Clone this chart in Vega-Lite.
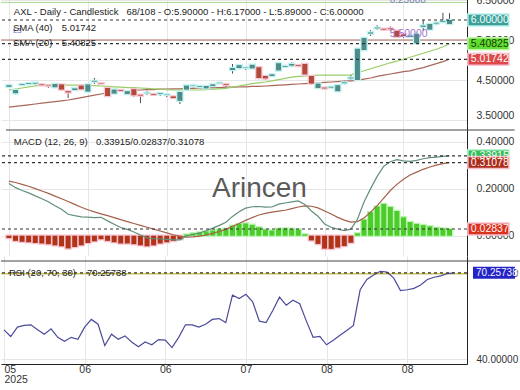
{
"$schema":"https://vega.github.io/schema/vega-lite/v6.json",
"padding":{"left":0,"top":-6,"right":0,"bottom":0},"spacing":0,"bounds":"flush","background":"white",
"config":{"view":{"stroke":null},"font":"Liberation Sans"},
"datasets":{"bars":[
{"i":0,"o":4.33,"h":4.40,"l":4.30,"c":4.37,"s20":4.25,"s40":3.82,"m":0.222,"sg":0.232,"hs":-0.010,"r":50.2},
{"i":1,"o":4.17,"h":4.28,"l":4.14,"c":4.25,"s20":4.27,"s40":3.84,"m":0.204,"sg":0.226,"hs":-0.022,"r":47.9},
{"i":2,"o":4.38,"h":4.41,"l":4.36,"c":4.40,"s20":4.30,"s40":3.86,"m":0.192,"sg":0.218,"hs":-0.026,"r":51.2},
{"i":3,"o":4.40,"h":4.43,"l":4.39,"c":4.42,"s20":4.33,"s40":3.88,"m":0.182,"sg":0.210,"hs":-0.028,"r":51.8},
{"i":4,"o":4.41,"h":4.44,"l":4.37,"c":4.43,"s20":4.35,"s40":3.90,"m":0.169,"sg":0.200,"hs":-0.031,"r":52.0},
{"i":5,"o":4.39,"h":4.40,"l":4.36,"c":4.37,"s20":4.37,"s40":3.92,"m":0.157,"sg":0.190,"hs":-0.033,"r":50.3},
{"i":6,"o":4.36,"h":4.37,"l":4.30,"c":4.35,"s20":4.38,"s40":3.94,"m":0.144,"sg":0.180,"hs":-0.036,"r":48.7},
{"i":7,"o":4.32,"h":4.42,"l":4.31,"c":4.40,"s20":4.38,"s40":3.96,"m":0.127,"sg":0.168,"hs":-0.041,"r":50.6},
{"i":8,"o":4.39,"h":4.40,"l":4.24,"c":4.26,"s20":4.38,"s40":3.98,"m":0.112,"sg":0.157,"hs":-0.045,"r":47.6},
{"i":9,"o":4.22,"h":4.25,"l":4.05,"c":4.19,"s20":4.37,"s40":4.00,"m":0.091,"sg":0.145,"hs":-0.054,"r":46.2},
{"i":10,"o":4.25,"h":4.31,"l":4.24,"c":4.29,"s20":4.37,"s40":4.03,"m":0.085,"sg":0.133,"hs":-0.048,"r":47.6},
{"i":11,"o":4.36,"h":4.38,"l":4.25,"c":4.27,"s20":4.37,"s40":4.06,"m":0.080,"sg":0.121,"hs":-0.041,"r":46.9},
{"i":12,"o":4.21,"h":4.40,"l":4.20,"c":4.39,"s20":4.36,"s40":4.09,"m":0.079,"sg":0.110,"hs":-0.031,"r":51.2},
{"i":13,"o":4.46,"h":4.55,"l":4.40,"c":4.48,"s20":4.36,"s40":4.12,"m":0.077,"sg":0.101,"hs":-0.024,"r":53.9},
{"i":14,"o":4.42,"h":4.43,"l":4.40,"c":4.41,"s20":4.35,"s40":4.15,"m":0.078,"sg":0.093,"hs":-0.015,"r":52.2},
{"i":15,"o":4.30,"h":4.31,"l":4.08,"c":4.10,"s20":4.34,"s40":4.18,"m":0.063,"sg":0.085,"hs":-0.022,"r":44.7},
{"i":16,"o":4.16,"h":4.28,"l":4.15,"c":4.26,"s20":4.33,"s40":4.20,"m":0.049,"sg":0.077,"hs":-0.028,"r":48.7},
{"i":17,"o":4.25,"h":4.27,"l":4.20,"c":4.23,"s20":4.32,"s40":4.22,"m":0.035,"sg":0.068,"hs":-0.033,"r":46.9},
{"i":18,"o":4.15,"h":4.24,"l":4.14,"c":4.22,"s20":4.31,"s40":4.23,"m":0.027,"sg":0.060,"hs":-0.033,"r":48.1},
{"i":19,"o":4.27,"h":4.28,"l":4.08,"c":4.12,"s20":4.31,"s40":4.24,"m":0.016,"sg":0.052,"hs":-0.036,"r":46.0},
{"i":20,"o":4.13,"h":4.14,"l":3.92,"c":4.11,"s20":4.30,"s40":4.25,"m":0.003,"sg":0.044,"hs":-0.041,"r":44.3},
{"i":21,"o":4.17,"h":4.23,"l":4.12,"c":4.18,"s20":4.29,"s40":4.26,"m":-0.009,"sg":0.036,"hs":-0.045,"r":46.0},
{"i":22,"o":4.15,"h":4.16,"l":4.12,"c":4.13,"s20":4.28,"s40":4.26,"m":-0.013,"sg":0.028,"hs":-0.041,"r":45.0},
{"i":23,"o":4.15,"h":4.18,"l":4.10,"c":4.17,"s20":4.27,"s40":4.27,"m":-0.013,"sg":0.020,"hs":-0.033,"r":46.8},
{"i":24,"o":4.13,"h":4.15,"l":4.07,"c":4.14,"s20":4.26,"s40":4.27,"m":-0.016,"sg":0.012,"hs":-0.028,"r":46.6},
{"i":25,"o":4.09,"h":4.10,"l":4.04,"c":4.05,"s20":4.25,"s40":4.28,"m":-0.018,"sg":0.004,"hs":-0.022,"r":44.0},
{"i":26,"o":3.98,"h":4.22,"l":3.90,"c":4.20,"s20":4.25,"s40":4.28,"m":-0.018,"sg":-0.003,"hs":-0.015,"r":47.6},
{"i":27,"o":4.26,"h":4.38,"l":4.25,"c":4.36,"s20":4.25,"s40":4.29,"m":-0.001,"sg":-0.006,"hs":0.005,"r":52.0},
{"i":28,"o":4.36,"h":4.40,"l":4.32,"c":4.37,"s20":4.25,"s40":4.29,"m":0.005,"sg":-0.005,"hs":0.010,"r":52.0},
{"i":29,"o":4.33,"h":4.36,"l":4.30,"c":4.35,"s20":4.25,"s40":4.30,"m":0.012,"sg":-0.002,"hs":0.014,"r":51.2},
{"i":30,"o":4.29,"h":4.36,"l":4.28,"c":4.35,"s20":4.26,"s40":4.30,"m":0.021,"sg":0.003,"hs":0.018,"r":52.2},
{"i":31,"o":4.35,"h":4.40,"l":4.34,"c":4.39,"s20":4.27,"s40":4.31,"m":0.032,"sg":0.010,"hs":0.022,"r":53.9},
{"i":32,"o":4.42,"h":4.45,"l":4.40,"c":4.43,"s20":4.28,"s40":4.31,"m":0.044,"sg":0.018,"hs":0.026,"r":54.2},
{"i":33,"o":4.40,"h":4.41,"l":4.33,"c":4.38,"s20":4.29,"s40":4.32,"m":0.057,"sg":0.027,"hs":0.030,"r":52.8},
{"i":34,"o":4.75,"h":4.90,"l":4.66,"c":4.80,"s20":4.32,"s40":4.32,"m":0.082,"sg":0.040,"hs":0.042,"r":62.4},
{"i":35,"o":4.80,"h":4.90,"l":4.77,"c":4.87,"s20":4.35,"s40":4.33,"m":0.102,"sg":0.052,"hs":0.050,"r":61.2},
{"i":36,"o":4.80,"h":4.82,"l":4.75,"c":4.81,"s20":4.38,"s40":4.33,"m":0.117,"sg":0.065,"hs":0.052,"r":62.7},
{"i":37,"o":4.79,"h":4.90,"l":4.78,"c":4.88,"s20":4.41,"s40":4.34,"m":0.123,"sg":0.077,"hs":0.046,"r":60.1},
{"i":38,"o":4.82,"h":4.83,"l":4.52,"c":4.55,"s20":4.43,"s40":4.34,"m":0.124,"sg":0.088,"hs":0.036,"r":53.3},
{"i":39,"o":4.60,"h":4.62,"l":4.50,"c":4.54,"s20":4.45,"s40":4.35,"m":0.121,"sg":0.095,"hs":0.026,"r":52.8},
{"i":40,"o":4.60,"h":4.66,"l":4.59,"c":4.64,"s20":4.48,"s40":4.36,"m":0.122,"sg":0.100,"hs":0.022,"r":57.0},
{"i":41,"o":4.74,"h":4.94,"l":4.72,"c":4.92,"s20":4.51,"s40":4.37,"m":0.134,"sg":0.104,"hs":0.030,"r":61.7},
{"i":42,"o":4.83,"h":4.88,"l":4.80,"c":4.85,"s20":4.54,"s40":4.38,"m":0.139,"sg":0.108,"hs":0.031,"r":58.9},
{"i":43,"o":4.86,"h":4.94,"l":4.82,"c":4.90,"s20":4.57,"s40":4.39,"m":0.144,"sg":0.115,"hs":0.029,"r":60.6},
{"i":44,"o":4.87,"h":4.89,"l":4.82,"c":4.85,"s20":4.59,"s40":4.40,"m":0.148,"sg":0.122,"hs":0.026,"r":59.4},
{"i":45,"o":4.90,"h":4.92,"l":4.62,"c":4.64,"s20":4.60,"s40":4.41,"m":0.133,"sg":0.127,"hs":0.006,"r":53.3},
{"i":46,"o":4.60,"h":4.61,"l":4.39,"c":4.41,"s20":4.61,"s40":4.42,"m":0.105,"sg":0.125,"hs":-0.020,"r":47.6},
{"i":47,"o":4.30,"h":4.43,"l":4.28,"c":4.41,"s20":4.62,"s40":4.43,"m":0.083,"sg":0.118,"hs":-0.035,"r":47.9},
{"i":48,"o":4.31,"h":4.32,"l":4.26,"c":4.29,"s20":4.62,"s40":4.44,"m":0.050,"sg":0.105,"hs":-0.055,"r":45.0},
{"i":49,"o":4.31,"h":4.34,"l":4.29,"c":4.33,"s20":4.62,"s40":4.45,"m":0.036,"sg":0.092,"hs":-0.056,"r":46.6},
{"i":50,"o":4.22,"h":4.39,"l":4.20,"c":4.37,"s20":4.62,"s40":4.46,"m":0.028,"sg":0.078,"hs":-0.050,"r":48.3},
{"i":51,"o":4.42,"h":4.48,"l":4.39,"c":4.44,"s20":4.62,"s40":4.47,"m":0.022,"sg":0.066,"hs":-0.044,"r":50.0},
{"i":52,"o":4.54,"h":4.62,"l":4.50,"c":4.56,"s20":4.63,"s40":4.48,"m":0.028,"sg":0.058,"hs":-0.030,"r":51.8},
{"i":53,"o":4.50,"h":5.30,"l":4.48,"c":5.28,"s20":4.68,"s40":4.49,"m":0.070,"sg":0.060,"hs":0.010,"r":64.3},
{"i":54,"o":5.25,"h":5.58,"l":5.22,"c":5.55,"s20":4.73,"s40":4.52,"m":0.143,"sg":0.075,"hs":0.068,"r":67.9},
{"i":55,"o":5.66,"h":5.75,"l":5.60,"c":5.69,"s20":4.78,"s40":4.55,"m":0.200,"sg":0.100,"hs":0.100,"r":69.5},
{"i":56,"o":5.79,"h":5.87,"l":5.75,"c":5.81,"s20":4.83,"s40":4.59,"m":0.252,"sg":0.128,"hs":0.124,"r":70.8},
{"i":57,"o":5.78,"h":5.80,"l":5.73,"c":5.76,"s20":4.88,"s40":4.62,"m":0.295,"sg":0.160,"hs":0.135,"r":70.5},
{"i":58,"o":5.79,"h":5.84,"l":5.72,"c":5.77,"s20":4.93,"s40":4.65,"m":0.314,"sg":0.192,"hs":0.122,"r":68.4},
{"i":59,"o":5.73,"h":5.75,"l":5.56,"c":5.58,"s20":4.97,"s40":4.68,"m":0.323,"sg":0.218,"hs":0.105,"r":64.0},
{"i":60,"o":5.64,"h":5.66,"l":5.55,"c":5.60,"s20":5.02,"s40":4.71,"m":0.318,"sg":0.240,"hs":0.078,"r":64.3},
{"i":61,"o":5.58,"h":5.62,"l":5.55,"c":5.61,"s20":5.07,"s40":4.73,"m":0.316,"sg":0.258,"hs":0.058,"r":64.8},
{"i":62,"o":5.42,"h":5.68,"l":5.40,"c":5.65,"s20":5.12,"s40":4.77,"m":0.320,"sg":0.270,"hs":0.050,"r":66.0},
{"i":63,"o":5.83,"h":6.00,"l":5.73,"c":5.86,"s20":5.17,"s40":4.81,"m":0.327,"sg":0.282,"hs":0.045,"r":67.9},
{"i":64,"o":5.76,"h":5.92,"l":5.74,"c":5.90,"s20":5.22,"s40":4.86,"m":0.332,"sg":0.292,"hs":0.040,"r":68.7},
{"i":65,"o":5.91,"h":5.96,"l":5.87,"c":5.93,"s20":5.27,"s40":4.91,"m":0.334,"sg":0.300,"hs":0.034,"r":69.2},
{"i":66,"o":5.95,"h":6.18,"l":5.94,"c":5.97,"s20":5.33,"s40":4.96,"m":0.337,"sg":0.306,"hs":0.031,"r":70.0},
{"i":67,"o":5.90,"h":6.17,"l":5.89,"c":6.00,"s20":5.40825,"s40":5.01742,"m":0.33915,"sg":0.31078,"hs":0.02837,"r":70.25738}
]},
"vconcat":[
{"width":466,"height":130,"layer":[
{"data":{"values":[{"v":5.5}]},"mark":{"type":"rule","color":"#a66a62","strokeWidth":1},"encoding":{"y":{"field":"v","type":"quantitative","scale":{"domain":[3.5,6.5],"nice":false,"zero":false},"axis":{"orient":"right","values":[3.5,4,4.5,5,5.5,6,6.5],"format":".5f","title":null,"ticks":false,"domainColor":"#222222","labelPadding":9,"grid":true,"gridColor":"#e6e6e6","labelFontSize":10.5,"labelColor":"#333333","labelFlush":false,"labelBaseline":{"condition":{"test":"datum.value < 3.6","value":"bottom"},"value":"middle"}}}}},
{"data":{"values":[{"v":6.44}]},"mark":{"type":"rule","color":"#a8d890","strokeWidth":1},"encoding":{"y":{"field":"v","type":"quantitative","scale":{"domain":[3.5,6.5],"nice":false,"zero":false}}}},
{"data":{"name":"bars"},"mark":{"type":"line","color":"#a8685a","strokeWidth":1.2},"encoding":{"x":{"field":"i","type":"quantitative","scale":{"domain":[-0.446,68.9],"nice":false,"zero":false},"axis":{"values":[0,12,24,36,48,60],"grid":true,"gridColor":"#e6e6e6","labels":false,"ticks":false,"domain":false,"title":null}},"y":{"field":"s40","type":"quantitative","scale":{"domain":[3.5,6.5],"nice":false,"zero":false}}}},
{"data":{"name":"bars"},"mark":{"type":"line","color":"#9acd6a","strokeWidth":1.2},"encoding":{"x":{"field":"i","type":"quantitative","scale":{"domain":[-0.446,68.9],"nice":false,"zero":false}},"y":{"field":"s20","type":"quantitative","scale":{"domain":[3.5,6.5],"nice":false,"zero":false}}}},
{"data":{"name":"bars"},"mark":{"type":"rule","color":"#505050","strokeWidth":1},"encoding":{"x":{"field":"i","type":"quantitative","scale":{"domain":[-0.446,68.9],"nice":false,"zero":false}},"y":{"field":"l","type":"quantitative","scale":{"domain":[3.5,6.5],"nice":false,"zero":false}},"y2":{"field":"h"}}},
{"data":{"name":"bars"},"mark":{"type":"bar","size":5,"strokeWidth":2.5,"orient":"vertical"},"encoding":{"x":{"field":"i","type":"quantitative","scale":{"domain":[-0.446,68.9],"nice":false,"zero":false}},"y":{"field":"o","type":"quantitative","scale":{"domain":[3.5,6.5],"nice":false,"zero":false}},"y2":{"field":"c"},"fill":{"condition":{"test":"datum.c>=datum.o","value":"#bff3f1"},"value":"#f9c6d4"},"stroke":{"condition":{"test":"datum.c>=datum.o","value":"#bff3f1"},"value":"#f9c6d4"}}},
{"data":{"name":"bars"},"mark":{"type":"bar","size":5,"orient":"vertical"},"encoding":{"x":{"field":"i","type":"quantitative","scale":{"domain":[-0.446,68.9],"nice":false,"zero":false}},"y":{"field":"o","type":"quantitative","scale":{"domain":[3.5,6.5],"nice":false,"zero":false}},"y2":{"field":"c"},"fill":{"condition":{"test":"datum.c>=datum.o","value":"#4f8c89"},"value":"#b24a3c"}}},
{"data":{"values":[{"v":6.0},{"v":5.40825},{"v":5.01742}]},"mark":{"type":"rule","color":"#333333","strokeWidth":1.2,"strokeDash":[3,3]},"encoding":{"y":{"field":"v","type":"quantitative","scale":{"domain":[3.5,6.5],"nice":false,"zero":false}}}},
{"data":{"values":[{"t":"AXL - Daily - Candlestick"}]},"mark":{"type":"text","align":"left","baseline":"middle","fontSize":9.5,"color":"#222222"},"encoding":{"text":{"field":"t"},"x":{"datum":0.74,"type":"quantitative","scale":{"domain":[-0.446,68.9],"nice":false,"zero":false}},"y":{"datum":6.2,"type":"quantitative","scale":{"domain":[3.5,6.5],"nice":false,"zero":false}}}},
{"data":{"values":[{"t":"68/108 - O:5.90000 - H:6.17000 - L:5.89000 - C:6.00000"}]},"mark":{"type":"text","align":"left","baseline":"middle","fontSize":9.5,"color":"#222222"},"encoding":{"text":{"field":"t"},"x":{"datum":17.86,"type":"quantitative","scale":{"domain":[-0.446,68.9],"nice":false,"zero":false}},"y":{"datum":6.2,"type":"quantitative","scale":{"domain":[3.5,6.5],"nice":false,"zero":false}}}},
{"data":{"values":[{"t":"L3"}]},"mark":{"type":"text","align":"left","baseline":"middle","fontSize":8,"color":"#6a6acc"},"encoding":{"text":{"field":"t"},"x":{"datum":0.6,"type":"quantitative","scale":{"domain":[-0.446,68.9],"nice":false,"zero":false}},"y":{"datum":5.72,"type":"quantitative","scale":{"domain":[3.5,6.5],"nice":false,"zero":false}}}},
{"data":{"values":[{"t":"SMA (40)"}]},"mark":{"type":"text","align":"left","baseline":"middle","fontSize":9.5,"color":"#222222"},"encoding":{"text":{"field":"t"},"x":{"datum":0.6,"type":"quantitative","scale":{"domain":[-0.446,68.9],"nice":false,"zero":false}},"y":{"datum":5.808,"type":"quantitative","scale":{"domain":[3.5,6.5],"nice":false,"zero":false}}}},
{"data":{"values":[{"t":"5.01742"}]},"mark":{"type":"text","align":"left","baseline":"middle","fontSize":9.5,"color":"#222222"},"encoding":{"text":{"field":"t"},"x":{"datum":8.04,"type":"quantitative","scale":{"domain":[-0.446,68.9],"nice":false,"zero":false}},"y":{"datum":5.808,"type":"quantitative","scale":{"domain":[3.5,6.5],"nice":false,"zero":false}}}},
{"data":{"values":[{"t":"SMA (20)"}]},"mark":{"type":"text","align":"left","baseline":"middle","fontSize":9.5,"color":"#222222"},"encoding":{"text":{"field":"t"},"x":{"datum":0.6,"type":"quantitative","scale":{"domain":[-0.446,68.9],"nice":false,"zero":false}},"y":{"datum":5.427,"type":"quantitative","scale":{"domain":[3.5,6.5],"nice":false,"zero":false}}}},
{"data":{"values":[{"t":"5.40825"}]},"mark":{"type":"text","align":"left","baseline":"middle","fontSize":9.5,"color":"#222222"},"encoding":{"text":{"field":"t"},"x":{"datum":8.04,"type":"quantitative","scale":{"domain":[-0.446,68.9],"nice":false,"zero":false}},"y":{"datum":5.427,"type":"quantitative","scale":{"domain":[3.5,6.5],"nice":false,"zero":false}}}},
{"data":{"values":[{"t":"5.50000"}]},"mark":{"type":"text","align":"left","baseline":"middle","fontSize":10.5,"color":"#9a5ccc","opacity":0.85},"encoding":{"text":{"field":"t"},"x":{"datum":57.9,"type":"quantitative","scale":{"domain":[-0.446,68.9],"nice":false,"zero":false}},"y":{"datum":5.645,"type":"quantitative","scale":{"domain":[3.5,6.5],"nice":false,"zero":false}}}},
{"data":{"values":[{"t":"0.25000"}]},"mark":{"type":"text","align":"left","baseline":"middle","fontSize":10,"color":"#7a7ac0"},"encoding":{"text":{"field":"t"},"x":{"datum":57.9,"type":"quantitative","scale":{"domain":[-0.446,68.9],"nice":false,"zero":false}},"y":{"datum":6.5,"type":"quantitative","scale":{"domain":[3.5,6.5],"nice":false,"zero":false}}}},
{"data":{"values":[{"s":"c","v":6.0,"t":"6.00000"},{"s":"s20","v":5.40825,"t":"5.40825"},{"s":"s40","v":5.01742,"t":"5.01742"}]},"layer":[
{"mark":{"type":"bar","orient":"horizontal","size":12,"strokeWidth":1.5},"encoding":{"x":{"datum":69.79,"type":"quantitative","scale":{"domain":[-0.446,68.9],"nice":false,"zero":false}},"x2":{"datum":76.04},"y":{"field":"v","type":"quantitative","scale":{"domain":[3.5,6.5],"nice":false,"zero":false}},"fill":{"condition":[{"test":"datum.s=='c'","value":"#3f9f98"},{"test":"datum.s=='s20'","value":"#5fe030"}],"value":"#de4848"},"stroke":{"condition":[{"test":"datum.s=='c'","value":"#b8f3f0"},{"test":"datum.s=='s20'","value":"#c2f5a8"}],"value":"#f9c4d4"}}},
{"mark":{"type":"text","align":"left","baseline":"middle","fontSize":10.5},"encoding":{"text":{"field":"t"},"x":{"datum":70.24,"type":"quantitative","scale":{"domain":[-0.446,68.9],"nice":false,"zero":false}},"y":{"field":"v","type":"quantitative","scale":{"domain":[3.5,6.5],"nice":false,"zero":false}},"color":{"condition":{"test":"datum.s=='s20'","value":"#1c3a08"},"value":"#f2ffff"}}}
]}
]},
{"width":466,"height":131,"layer":[
{"data":{"name":"bars"},"mark":{"type":"bar","size":5,"strokeWidth":2.5,"orient":"vertical"},"encoding":{"x":{"field":"i","type":"quantitative","scale":{"domain":[-0.446,68.9],"nice":false,"zero":false},"axis":{"values":[0,12,24,36,48,60],"grid":true,"gridColor":"#e6e6e6","labels":false,"ticks":false,"domain":false,"title":null}},"y":{"field":"hs","type":"quantitative","scale":{"domain":[-0.065,0.449],"nice":false,"zero":false},"axis":{"orient":"right","values":[-0.1,0,0.1,0.2,0.3,0.4],"format":".5f","title":null,"ticks":false,"domainColor":"#222222","labelPadding":9,"grid":true,"gridColor":"#e6e6e6","labelFontSize":10.5,"labelColor":"#333333"}},"y2":{"datum":0},"fill":{"condition":{"test":"datum.hs>=0","value":"#bdf5b4"},"value":"#f8c4d2"},"stroke":{"condition":{"test":"datum.hs>=0","value":"#bdf5b4"},"value":"#f8c4d2"}}},
{"data":{"name":"bars"},"mark":{"type":"bar","size":5,"orient":"vertical"},"encoding":{"x":{"field":"i","type":"quantitative","scale":{"domain":[-0.446,68.9],"nice":false,"zero":false}},"y":{"field":"hs","type":"quantitative","scale":{"domain":[-0.065,0.449],"nice":false,"zero":false}},"y2":{"datum":0},"fill":{"condition":{"test":"datum.hs>=0","value":"#4ccc2a"},"value":"#b03418"}}},
{"data":{"name":"bars"},"mark":{"type":"line","color":"#a5604c","strokeWidth":1.2},"encoding":{"x":{"field":"i","type":"quantitative","scale":{"domain":[-0.446,68.9],"nice":false,"zero":false}},"y":{"field":"sg","type":"quantitative","scale":{"domain":[-0.065,0.449],"nice":false,"zero":false}}}},
{"data":{"name":"bars"},"mark":{"type":"line","color":"#62907a","strokeWidth":1.2},"encoding":{"x":{"field":"i","type":"quantitative","scale":{"domain":[-0.446,68.9],"nice":false,"zero":false}},"y":{"field":"m","type":"quantitative","scale":{"domain":[-0.065,0.449],"nice":false,"zero":false}}}},
{"data":{"values":[{"v":0.33915},{"v":0.31078},{"v":0.02837}]},"mark":{"type":"rule","color":"#333333","strokeWidth":1.2,"strokeDash":[3,3]},"encoding":{"y":{"field":"v","type":"quantitative","scale":{"domain":[-0.065,0.449],"nice":false,"zero":false}}}},
{"data":{"values":[{"t":"MACD (12, 26, 9)"}]},"mark":{"type":"text","align":"left","baseline":"middle","fontSize":9.5,"color":"#222222"},"encoding":{"text":{"field":"t"},"x":{"datum":0.74,"type":"quantitative","scale":{"domain":[-0.446,68.9],"nice":false,"zero":false}},"y":{"datum":0.398,"type":"quantitative","scale":{"domain":[-0.065,0.449],"nice":false,"zero":false}}}},
{"data":{"values":[{"t":"0.33915/0.02837/0.31078"}]},"mark":{"type":"text","align":"left","baseline":"middle","fontSize":9.5,"color":"#222222"},"encoding":{"text":{"field":"t"},"x":{"datum":13.24,"type":"quantitative","scale":{"domain":[-0.446,68.9],"nice":false,"zero":false}},"y":{"datum":0.398,"type":"quantitative","scale":{"domain":[-0.065,0.449],"nice":false,"zero":false}}}},
{"data":{"values":[{"t":"Arincen"}]},"mark":{"type":"text","align":"center","baseline":"middle","fontSize":28,"color":"#5a5a5a"},"encoding":{"text":{"field":"t"},"x":{"datum":38.1,"type":"quantitative","scale":{"domain":[-0.446,68.9],"nice":false,"zero":false}},"y":{"datum":0.2,"type":"quantitative","scale":{"domain":[-0.065,0.449],"nice":false,"zero":false}}}},
{"data":{"values":[{"v":0.449}]},"mark":{"type":"rule","color":"#444444","strokeWidth":1},"encoding":{"x":{"datum":-0.446,"type":"quantitative","scale":{"domain":[-0.446,68.9],"nice":false,"zero":false}},"x2":{"datum":76.9},"y":{"field":"v","type":"quantitative","scale":{"domain":[-0.065,0.449],"nice":false,"zero":false}}}},
{"data":{"values":[{"s":"m","v":0.33915,"t":"0.33915"},{"s":"sg","v":0.31078,"t":"0.31078"},{"s":"h","v":0.02837,"t":"0.02837"}]},"layer":[
{"mark":{"type":"bar","orient":"horizontal","size":12,"strokeWidth":1.5},"encoding":{"x":{"datum":69.79,"type":"quantitative","scale":{"domain":[-0.446,68.9],"nice":false,"zero":false}},"x2":{"datum":76.04},"y":{"field":"v","type":"quantitative","scale":{"domain":[-0.065,0.449],"nice":false,"zero":false}},"fill":{"condition":[{"test":"datum.s=='m'","value":"#30bf5c"},{"test":"datum.s=='sg'","value":"#aa2c1a"}],"value":"#d8331f"},"stroke":{"condition":[{"test":"datum.s=='m'","value":"#b8f5d0"},{"test":"datum.s=='sg'","value":"#f5c0c8"}],"value":"#f9c4d4"}}},
{"mark":{"type":"text","align":"left","baseline":"middle","fontSize":10.5},"encoding":{"text":{"field":"t"},"x":{"datum":70.24,"type":"quantitative","scale":{"domain":[-0.446,68.9],"nice":false,"zero":false}},"y":{"field":"v","type":"quantitative","scale":{"domain":[-0.065,0.449],"nice":false,"zero":false}},"color":{"value":"#fff4f4"}}}
]}
]},
{"width":466,"height":108,"layer":[
{"data":{"values":[{"v":70}]},"mark":{"type":"rule","color":"#d6c83c","strokeWidth":1.2},"encoding":{"y":{"field":"v","type":"quantitative","scale":{"domain":[40,74.4],"nice":false,"zero":false},"axis":{"orient":"right","values":[40,50,60,70],"format":".5f","title":null,"ticks":false,"domainColor":"#222222","labelPadding":9,"grid":true,"gridColor":"#e6e6e6","labelFontSize":10,"labelColor":"#333333","labelFlush":true}}}},
{"data":{"name":"bars"},"mark":{"type":"line","color":"#4b4b9b","strokeWidth":1.2},"encoding":{"x":{"field":"i","type":"quantitative","scale":{"domain":[-0.446,68.9],"nice":false,"zero":false},"axis":{"values":[0,12,24,36,48,60],"labelExpr":"datum.value == 0 ? ['05','2025'] : (datum.value == 12 || datum.value == 24) ? '06' : datum.value == 36 ? '07' : '08'","labelFlush":5,"grid":true,"gridColor":"#e6e6e6","ticks":false,"domain":true,"domainColor":"#222222","labelPadding":0,"labelBaseline":"top","labelLineHeight":10,"labelFontSize":10.5,"labelColor":"#333333","title":null}},"y":{"field":"r","type":"quantitative","scale":{"domain":[40,74.4],"nice":false,"zero":false}}}},
{"data":{"values":[{"v":70.25738}]},"mark":{"type":"rule","color":"#333333","strokeWidth":1.2,"strokeDash":[3,3]},"encoding":{"y":{"field":"v","type":"quantitative","scale":{"domain":[40,74.4],"nice":false,"zero":false}}}},
{"data":{"values":[{"t":"RSI (20, 70, 30)"}]},"mark":{"type":"text","align":"left","baseline":"middle","fontSize":9.5,"color":"#222222"},"encoding":{"text":{"field":"t"},"x":{"datum":0.74,"type":"quantitative","scale":{"domain":[-0.446,68.9],"nice":false,"zero":false}},"y":{"datum":70.26,"type":"quantitative","scale":{"domain":[40,74.4],"nice":false,"zero":false}}}},
{"data":{"values":[{"t":"70.25738"}]},"mark":{"type":"text","align":"left","baseline":"middle","fontSize":9.5,"color":"#222222"},"encoding":{"text":{"field":"t"},"x":{"datum":12.35,"type":"quantitative","scale":{"domain":[-0.446,68.9],"nice":false,"zero":false}},"y":{"datum":70.26,"type":"quantitative","scale":{"domain":[40,74.4],"nice":false,"zero":false}}}},
{"data":{"values":[{"v":74.4}]},"mark":{"type":"rule","color":"#444444","strokeWidth":1},"encoding":{"x":{"datum":-0.446,"type":"quantitative","scale":{"domain":[-0.446,68.9],"nice":false,"zero":false}},"x2":{"datum":76.9},"y":{"field":"v","type":"quantitative","scale":{"domain":[40,74.4],"nice":false,"zero":false}}}},
{"data":{"values":[{"v":70.25738,"t":"70.25738"}]},"layer":[
{"mark":{"type":"bar","orient":"horizontal","size":12,"color":"#2323c6"},"encoding":{"x":{"datum":69.79,"type":"quantitative","scale":{"domain":[-0.446,68.9],"nice":false,"zero":false}},"x2":{"datum":76.04},"y":{"field":"v","type":"quantitative","scale":{"domain":[40,74.4],"nice":false,"zero":false}}}},
{"mark":{"type":"text","align":"left","baseline":"middle","fontSize":10,"color":"#f4f4ff"},"encoding":{"text":{"field":"t"},"x":{"datum":70.24,"type":"quantitative","scale":{"domain":[-0.446,68.9],"nice":false,"zero":false}},"y":{"field":"v","type":"quantitative","scale":{"domain":[40,74.4],"nice":false,"zero":false}}}}
]}
]}
]
}
